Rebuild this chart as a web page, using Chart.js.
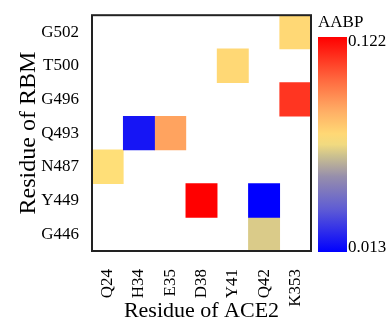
<!DOCTYPE html>
<html>
<head>
<meta charset="utf-8">
<script src="https://cdn.jsdelivr.net/npm/chart.js@4/dist/chart.umd.min.js"></script>
<style>
  html, body { margin: 0; padding: 0; background: #fff; }
  #wrap { width: 389px; height: 324px; }
</style>
</head>
<body>
<div id="wrap"><canvas id="heatChart" width="389" height="324"></canvas></div>
<script>
// ACE2 residues (x) and RBM residues (y, bottom to top)
var columns = ['Q24', 'H34', 'E35', 'D38', 'Y41', 'Q42', 'K353'];
var rows = ['G446', 'Y449', 'N487', 'Q493', 'G496', 'T500', 'G502'];

// non-empty cells
var cellCols = ['K353', 'Y41', 'K353', 'H34', 'E35', 'Q24', 'D38', 'Q42', 'Q42'];
var cellRows = ['G502', 'T500', 'G496', 'Q493', 'Q493', 'N487', 'Y449', 'Y449', 'G446'];
var cellValues = [0.073, 0.073, 0.111, 0.018, 0.087, 0.071, 0.122, 0.013, 0.064];

var colorMin = 0.013;
var colorMax = 0.122;
var colorTicks = ['0.013', '0.122'];

var serif = '"Liberation Serif", "Times New Roman", serif';

// blue -> grey -> yellow -> red
var cmap = [
    [0.00, [0, 0, 255]],
    [0.20, [95, 92, 212]],
    [0.35, [150, 142, 172]],
    [0.45, [205, 194, 142]],
    [0.52, [255, 228, 122]],
    [0.66, [255, 172, 100]],
    [0.82, [255, 95, 58]],
    [1.00, [255, 0, 0]]
];

function colorAt(t) {
    t = Math.max(0, Math.min(1, t));
    for (var i = 1; i < cmap.length; i++) {
        if (t <= cmap[i][0]) {
            var a = cmap[i - 1], b = cmap[i];
            var f = (t - a[0]) / (b[0] - a[0]);
            var c = a[1].map(function (v, k) { return Math.round(v + (b[1][k] - v) * f); });
            return 'rgb(' + c.join(',') + ')';
        }
    }
    return 'rgb(255,0,0)';
}

function valueColor(v) {
    return colorAt((v - colorMin) / (colorMax - colorMin));
}

// one floating bar per cell, spanning its row band
var datasets = cellValues.map(function (v, i) {
    var r = rows.indexOf(cellRows[i]);
    return {
        data: [{ x: cellCols[i], y: [r, r + 1] }],
        backgroundColor: valueColor(v),
        borderWidth: 0,
        grouped: false,
        barPercentage: 1,
        categoryPercentage: 1
    };
});

// frame around the plot area
var frame = {
    id: 'frame',
    afterDatasetsDraw: function (chart) {
        var a = chart.chartArea, ctx = chart.ctx;
        ctx.save();
        ctx.strokeStyle = '#222';
        ctx.lineWidth = 2;
        ctx.strokeRect(a.left, a.top, a.right - a.left, a.bottom - a.top);
        ctx.restore();
    }
};

// colour bar on the right
var colorBar = {
    id: 'colorBar',
    afterDraw: function (chart) {
        var ctx = chart.ctx;
        var x = 318, y0 = 37, w = 29, h = 215;
        var g = ctx.createLinearGradient(0, y0 + h, 0, y0);
        for (var s = 0; s <= 20; s++) g.addColorStop(s / 20, colorAt(s / 20));
        ctx.save();
        ctx.fillStyle = g;
        ctx.fillRect(x, y0, w, h);
        ctx.fillStyle = '#000';
        ctx.font = '17px ' + serif;
        ctx.textBaseline = 'middle';
        ctx.textAlign = 'left';
        ctx.fillText('AABP', 318, 23);
        ctx.fillText(colorTicks[1], x + w + 1, y0 + 5);
        ctx.fillText(colorTicks[0], x + w + 1, y0 + h - 4);
        ctx.restore();
    }
};

new Chart(document.getElementById('heatChart'), {
    type: 'bar',
    data: { labels: columns, datasets: datasets },
    options: {
        responsive: false,
        animation: false,
        layout: { padding: { top: 15, right: 78, bottom: 0, left: 0 } },
        plugins: { legend: { display: false }, tooltip: { enabled: false } },
        scales: {
            x: {
                type: 'category',
                offset: true,
                grid: { display: false },
                border: { display: false },
                ticks: {
                    color: '#000',
                    font: { family: serif, size: 17 },
                    minRotation: 90,
                    maxRotation: 90,
                    padding: 10,
                    autoSkip: false
                },
                title: {
                    display: true,
                    text: 'Residue of ACE2',
                    color: '#000',
                    font: { family: serif, size: 22 },
                    padding: { top: 0, bottom: 0 }
                },
                afterFit: function (scale) { scale.height = 73; }
            },
            y: {
                type: 'linear',
                min: 0,
                max: rows.length,
                grid: { display: false },
                border: { display: false },
                afterBuildTicks: function (scale) {
                    scale.ticks = rows.map(function (r, i) { return { value: i + 0.5 }; });
                },
                ticks: {
                    color: '#000',
                    font: { family: serif, size: 17 },
                    padding: 5,
                    callback: function (v) { return rows[Math.floor(v)]; }
                },
                title: {
                    display: true,
                    text: 'Residue of RBM',
                    color: '#000',
                    font: { family: serif, size: 24 },
                    padding: { top: 14, bottom: 0 }
                },
                afterFit: function (scale) { scale.width = 92; }
            }
        }
    },
    plugins: [frame, colorBar]
});
</script>
</body>
</html>
